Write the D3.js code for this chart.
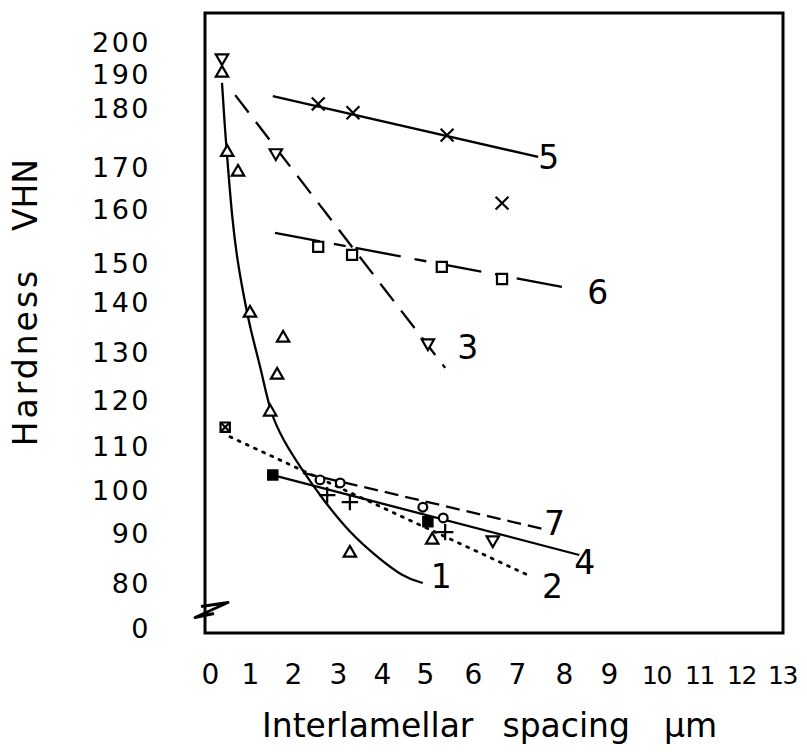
<!DOCTYPE html>
<html>
<head>
<meta charset="utf-8">
<style>
  body { margin: 0; background: #fff; }
  svg { display: block; font-family: "DejaVu Sans", Arial, sans-serif; }
</style>
<script src="https://cdn.jsdelivr.net/npm/d3@7"></script>
</head>
<body>
<svg id="chart" width="807" height="752"></svg>
<script>
// tick labels
const xTickValues = [0, 1, 2, 3, 4, 5, 6, 7, 8, 9, 10, 11, 12, 13]
const yTickValues = [0, 80, 90, 100, 110, 120, 130, 140, 150, 160, 170, 180, 190, 200]

// curve 1 (solid, drawn by hand through the triangles)
const curve1 = [[0.3, 187.4], [0.38, 175.8], [0.45, 170], [0.55, 158.5], [0.68, 150.6], [0.83, 142.3],
  [1.0, 134.8], [1.28, 125.6], [1.47, 117.2], [1.77, 111.3], [2.16, 105.2], [2.67, 97.7],
  [3.27, 90], [3.89, 85.2], [4.49, 81.2], [4.95, 80]]
const line2 = [[0.5, 112.0], [7.32, 81.2]]
const line3 = [[0.63, 183.8], [5.42, 126.7]]
const line4 = [[1.53, 103.4], [8.34, 85.6]]
const line5 = [[1.53, 183.5], [7.45, 171.7]]
const line6 = [[1.58, 155.6], [8.23, 143.3]]
const line7 = [[2.22, 103.9], [7.64, 90.7]]

// measured points, by marker
const triUp = [[0.3, 190.3], [0.43, 172.5], [0.7, 168.8], [1.0, 137.8], [1.77, 132.8],
  [1.63, 125.2], [1.47, 117.4], [3.27, 86.0], [5.15, 88.6]]
const triDown = [[0.3, 195], [1.6, 172.4], [5.06, 131.8], [6.45, 88.6]]
const crosses = [[2.56, 181.2], [3.34, 179.2], [5.46, 175.4], [6.66, 161.4]]
const squares = [[2.56, 153.0], [3.32, 151.5], [5.35, 149.0], [6.66, 145.9]]
const hatched = [[0.38, 114.1]]
const filled = [[1.53, 103.4], [5.06, 92.6]]
const pluses = [[2.76, 98.8], [3.27, 97.2], [5.42, 90.2]]
const circles = [[2.6, 102.3], [3.05, 101.6], [4.95, 96.0], [5.38, 93.5]]

const lineNames = ["1", "2", "3", "4", "5", "6", "7"]

// ---- layout ----
const frame = { left: 205, top: 13, right: 783, bottom: 633 }
// hand lettered axis: label positions are not evenly spaced
const xRange = [210, 250, 293, 338, 382, 425, 473, 517, 564, 609, 656, 699, 741, 782]
const yRange = [628, 583, 533, 490, 446, 400, 352, 302, 263, 209, 167, 108, 74, 42]

let svg = d3.select("#chart")
let x = d3.scaleLinear().domain(xTickValues).range(xRange)
let y = d3.scaleLinear().domain(yTickValues).range(yRange)

// frame
svg.append("rect")
  .attr("x", frame.left).attr("y", frame.top)
  .attr("width", frame.right - frame.left).attr("height", frame.bottom - frame.top)
  .attr("fill", "none").attr("stroke", "#000").attr("stroke-width", 3)

// axis break on the y axis
let bx = frame.left, by = y(40)
svg.append("path")
  .attr("d", `M${bx - 4},${by + 1} L${bx + 23},${by - 3} L${bx - 10},${by + 12} L${bx + 9},${by + 8}`)
  .attr("fill", "none").attr("stroke", "#000").attr("stroke-width", 3)
  .attr("stroke-linejoin", "round")

// axes (labels only)
let xAxis = svg.append("g")
  .attr("transform", "translate(0,662)")
  .call(d3.axisBottom(x).tickValues(xTickValues).tickSize(0).tickPadding(2).tickFormat(d => d))
xAxis.select(".domain").remove()
xAxis.selectAll("text").attr("font-size", 28).attr("fill", "#000")
  .attr("font-family", "DejaVu Sans, sans-serif")
  .filter(d => d >= 10)
  .attr("font-size", 25).attr("letter-spacing", -1.5).attr("dy", "0.78em")

let yAxis = svg.append("g")
  .attr("transform", "translate(151,0)")
  .call(d3.axisLeft(y).tickValues(yTickValues).tickSize(0).tickPadding(0).tickFormat(d => d))
yAxis.select(".domain").remove()
yAxis.selectAll("text").attr("font-size", 27).attr("fill", "#000")
  .attr("letter-spacing", 2.5).attr("dy", "0.36em")
  .attr("font-family", "DejaVu Sans, sans-serif")

// axis titles
let xt = svg.append("text")
  .attr("x", 262).attr("y", 737)
  .attr("font-size", 33)
xt.append("tspan").text("Interlamellar")
xt.append("tspan").attr("dx", 29).text("spacing")
xt.append("tspan").attr("dx", 34).text("μm")

svg.append("text")
  .attr("transform", "translate(37,357) rotate(-90)")
  .attr("text-anchor", "middle").attr("font-size", 33).attr("letter-spacing", 3)
  .text("Hardness")
svg.append("text")
  .attr("transform", "translate(37,195) rotate(-90)")
  .attr("text-anchor", "middle").attr("font-size", 33)
  .text("VHN")

// lines
let line = d3.line().x(d => x(d[0])).y(d => y(d[1]))
let smooth = d3.line().x(d => x(d[0])).y(d => y(d[1])).curve(d3.curveBasis)

let lines = [
  { data: curve1, gen: smooth, dash: null, off: [8, 5] },
  { data: line2, gen: line, dash: "2,7", off: [10, 21] },
  { data: line3, gen: line, dash: "22,12", off: [12, -9] },
  { data: line4, gen: line, dash: null, off: [-5, 19] },
  { data: line5, gen: line, dash: null, off: [0, 12] },
  { data: line6, gen: line, dash: "46,14,12,10", off: [13, 15] },
  { data: line7, gen: line, dash: "14,7", off: [-3, 5] }
]

lines.forEach((l, i) => {
  svg.append("path")
    .attr("d", l.gen(l.data))
    .attr("fill", "none").attr("stroke", "#000")
    .attr("stroke-width", l.dash === "2,7" ? 2.8 : 2.3)
    .attr("stroke-dasharray", l.dash)
    .attr("stroke-linecap", l.dash === "2,7" ? "round" : "butt")
  let end = l.data[l.data.length - 1]
  svg.append("text")
    .attr("x", x(end[0]) + l.off[0]).attr("y", y(end[1]) + l.off[1])
    .attr("font-size", 33)
    .text(lineNames[i])
})

// markers
function drawMarkers(data, type, size, opts) {
  opts = opts || {}
  svg.append("g").selectAll("path")
    .data(data)
    .enter().append("path")
    .attr("d", d3.symbol().type(type).size(size))
    .attr("transform", d => `translate(${x(d[0])},${y(d[1])})` + (opts.rotate ? ` rotate(${opts.rotate})` : ""))
    .attr("fill", opts.fill || "#fff")
    .attr("stroke", "#000").attr("stroke-width", 2.2)
}

drawMarkers(triUp, d3.symbolTriangle2, 110)
drawMarkers(triDown, d3.symbolTriangle2, 110, { rotate: 180 })
drawMarkers(crosses, d3.symbolTimes, 110)
drawMarkers(squares, d3.symbolSquare2, 130)
drawMarkers(hatched, d3.symbolSquare2, 110)
drawMarkers(hatched, d3.symbolTimes, 50)
drawMarkers(filled, d3.symbolSquare2, 110, { fill: "#000" })
drawMarkers(pluses, d3.symbolPlus, 90)
drawMarkers(circles, d3.symbolCircle, 60)
</script>
</body>
</html>
